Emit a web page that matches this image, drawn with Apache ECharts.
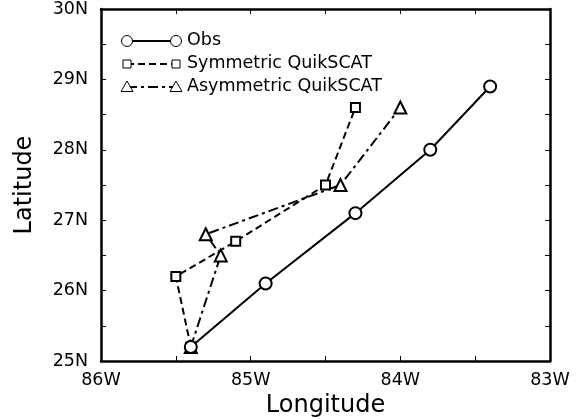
<!DOCTYPE html>
<html>
<head>
<meta charset="utf-8">
<script src="https://cdn.jsdelivr.net/npm/echarts@6/dist/echarts.min.js"></script>
<style>
  html, body { margin: 0; padding: 0; background: #fff; }
  #main { width: 582px; height: 419px; }
</style>
</head>
<body>
<div id="main"></div>
<script>
// track positions [lon, lat]
const obsTrack = [[-85.4, 25.2], [-84.9, 26.1], [-84.3, 27.1], [-83.8, 28.0], [-83.4, 28.9]]
const symTrack = [[-85.4, 25.2], [-85.5, 26.2], [-85.1, 26.7], [-84.5, 27.5], [-84.3, 28.6]]
const asymTrack = [[-85.4, 25.2], [-85.2, 26.5], [-85.3, 26.8], [-84.4, 27.5], [-84.0, 28.6]]
const seriesNames = ['Obs', 'Symmetric QuikSCAT', 'Asymmetric QuikSCAT']
const lonRange = [-86, -83]
const latRange = [25, 30]

const font = 'DejaVu Sans, Liberation Sans, sans-serif'
const chart = echarts.init(document.getElementById('main'))

const symbols = ['emptyCircle', 'emptyRect', 'emptyTriangle']
const symSizes = [12, 9, 12]
const dashes = ['solid', [7, 4], [10, 4, 3, 4]]

// legend drawn by hand: line with a marker at each end
const legendG = []
seriesNames.forEach((name, i) => {
    const y = 41 + i * 23
    legendG.push({
        type: 'line', shape: { x1: 127, y1: y, x2: 176, y2: y },
        style: { stroke: '#000', lineWidth: 2, lineDash: dashes[i] === 'solid' ? null : dashes[i] }
    })
    ;[127, 176].forEach(cx => {
        if (i === 0) legendG.push({ type: 'circle', shape: { cx: cx, cy: y, r: 5.5 }, style: { fill: '#fff', stroke: '#000', lineWidth: 1 } })
        if (i === 1) legendG.push({ type: 'rect', shape: { x: cx - 4, y: y - 4, width: 8, height: 8 }, style: { fill: '#fff', stroke: '#000', lineWidth: 1 } })
        if (i === 2) legendG.push({ type: 'polygon', shape: { points: [[cx, y - 6], [cx - 6, y + 4.5], [cx + 6, y + 4.5]] }, style: { fill: '#fff', stroke: '#000', lineWidth: 1 } })
    })
    legendG.push({
        type: 'text', left: 187, top: y - 10,
        style: { text: name, font: '17.5px ' + font, fill: '#000' }
    })
})

const tickCommon = {
    axisLine: { show: true, lineStyle: { color: '#000', width: 2.5 } },
    axisTick: { show: true, inside: true, length: 5, lineStyle: { color: '#000', width: 1 } },
    minorTick: { show: true, splitNumber: 2, length: 5, lineStyle: { color: '#000', width: 1 } },
    splitLine: { show: false },
    minorSplitLine: { show: false }
}

chart.setOption({
    animation: false,
    backgroundColor: '#fff',
    grid: { left: 101, right: 32, top: 9, bottom: 58, outerBoundsMode: 'none' },
    xAxis: [
        Object.assign({
            type: 'value', min: lonRange[0], max: lonRange[1], interval: 1,
            name: 'Longitude', nameLocation: 'middle', nameGap: 29,
            nameTextStyle: { fontFamily: font, fontSize: 24, color: '#000' },
            axisLabel: {
                fontFamily: font, fontSize: 17.5, color: '#000', margin: 10,
                formatter: v => Math.abs(v) + 'W'
            }
        }, tickCommon),
        Object.assign({
            type: 'value', min: lonRange[0], max: lonRange[1], interval: 1, position: 'top',
            axisLabel: { show: false }
        }, tickCommon)
    ],
    yAxis: [
        Object.assign({
            type: 'value', min: latRange[0], max: latRange[1], interval: 1,
            name: 'Latitude', nameLocation: 'middle', nameGap: 64,
            nameTextStyle: { fontFamily: font, fontSize: 24, color: '#000' },
            axisLabel: {
                fontFamily: font, fontSize: 17.5, color: '#000', margin: 13,
                formatter: v => v + 'N'
            }
        }, tickCommon),
        Object.assign({
            type: 'value', min: latRange[0], max: latRange[1], interval: 1, position: 'right',
            axisLabel: { show: false }
        }, tickCommon)
    ],
    series: [obsTrack, symTrack, asymTrack].map((d, i) => ({
        name: seriesNames[i],
        type: 'line',
        data: d,
        symbol: symbols[i],
        symbolSize: symSizes[i],
        showSymbol: true,
        itemStyle: { color: '#000', borderWidth: 1 },
        lineStyle: { color: '#000', width: 2, type: dashes[i] },
        z: 3 - i
    })),
    graphic: legendG
})
</script>
</body>
</html>
